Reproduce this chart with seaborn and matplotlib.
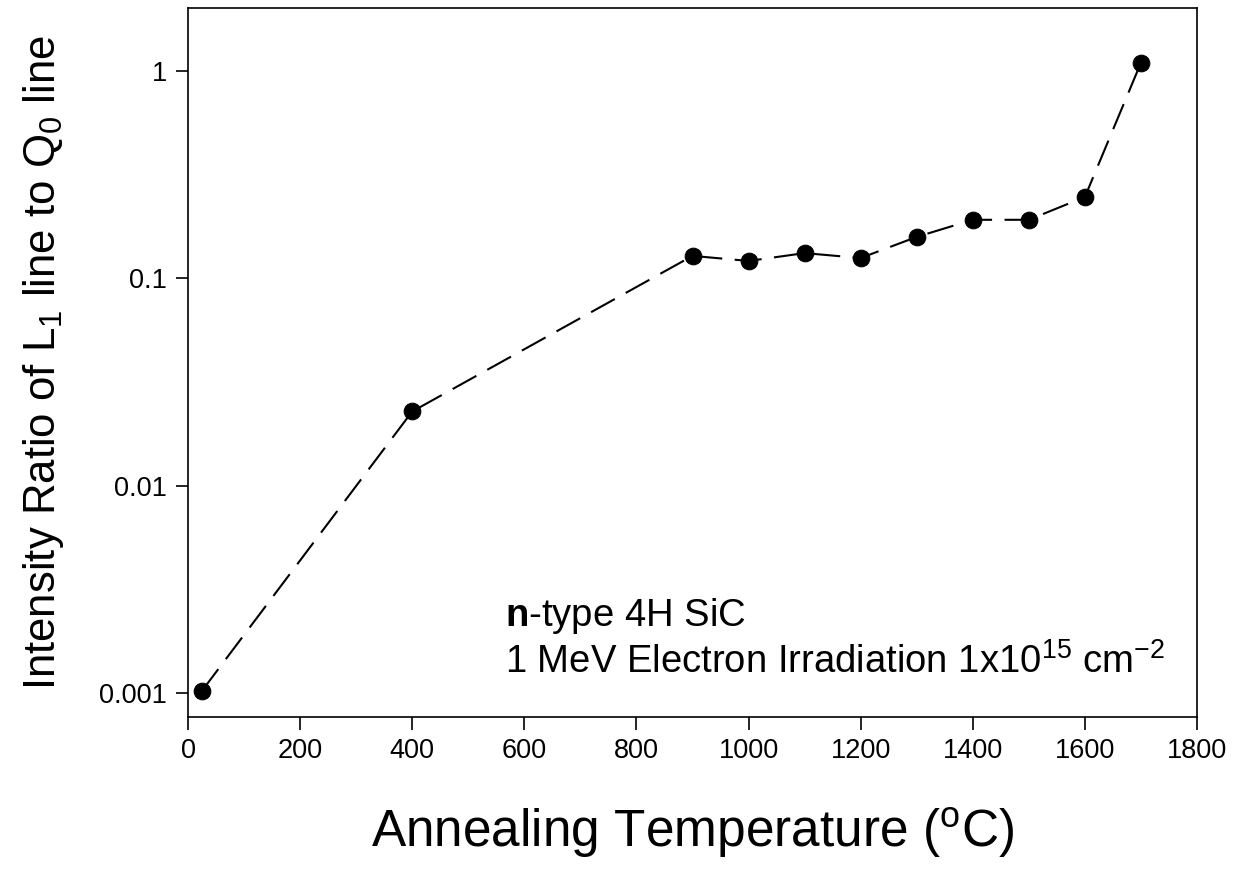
import matplotlib
matplotlib.use("Agg")
import matplotlib.pyplot as plt
import seaborn as sns
import pandas as pd

temperature = [25, 400, 900, 1000, 1100, 1200, 1300, 1400, 1500, 1600, 1700]
ratio = [0.00103, 0.0228, 0.128, 0.121, 0.132, 0.125, 0.158, 0.191, 0.191, 0.246, 1.09]
x_ticks = [0, 200, 400, 600, 800, 1000, 1200, 1400, 1600, 1800]
y_ticks = [0.001, 0.01, 0.1, 1]
y_tick_labels = ["0.001", "0.01", "0.1", "1"]

sns.set_theme(style="ticks")
plt.rcParams['font.family'] = ['Liberation Sans', 'DejaVu Sans']
plt.rcParams['mathtext.fontset'] = 'custom'
plt.rcParams['mathtext.rm'] = 'Liberation Sans'
plt.rcParams['mathtext.it'] = 'Liberation Sans'
plt.rcParams['mathtext.bf'] = 'Liberation Sans:bold'

df = pd.DataFrame({"T": temperature, "R": ratio})

fig = plt.figure(figsize=(12.39, 8.71), dpi=100)
ax = fig.add_axes([188/1239, 1-717/871, (1197-188)/1239, (717-8)/871])

sns.lineplot(data=df, x="T", y="R", ax=ax, color="black", linewidth=1.5,
             marker="o", markersize=12, markeredgecolor="black",
             markerfacecolor="black")
ax.lines[0].set_dashes([13, 6])

ax.set_yscale("log")
ax.set_xlim(0, 1800)
ax.set_ylim(0.00077, 2.0)
ax.set_xticks(x_ticks)
ax.set_xticklabels([str(v) for v in x_ticks])
ax.set_yticks(y_ticks)
ax.set_yticklabels(y_tick_labels)
ax.yaxis.set_minor_locator(matplotlib.ticker.NullLocator())

for s in ax.spines.values():
    s.set_color("black")
    s.set_linewidth(1.2)
ax.tick_params(axis="both", direction="out", length=9, width=1.2,
               colors="black", labelsize=19.5, pad=6)

ax.set_xlabel(r"Annealing Temperature ($\mathregular{^{o}}$C)", fontsize=37,
              labelpad=30, color="black")
ax.set_ylabel(r"Intensity Ratio of L$\mathregular{_1}$ line to Q$\mathregular{_0}$ line",
              fontsize=31.5, labelpad=24, color="black")

ax.text(565, 0.00211, r"$\mathbf{n}$-type 4H SiC", fontsize=27.5, color="black",
        ha="left", va="baseline")
ax.text(565, 0.00125, r"1 MeV Electron Irradiation 1x10$\mathregular{^{15}}$ cm$\mathregular{^{-2}}$",
        fontsize=27.5, color="black", ha="left", va="baseline")

fig.savefig("out.png", dpi=100, facecolor="white")
